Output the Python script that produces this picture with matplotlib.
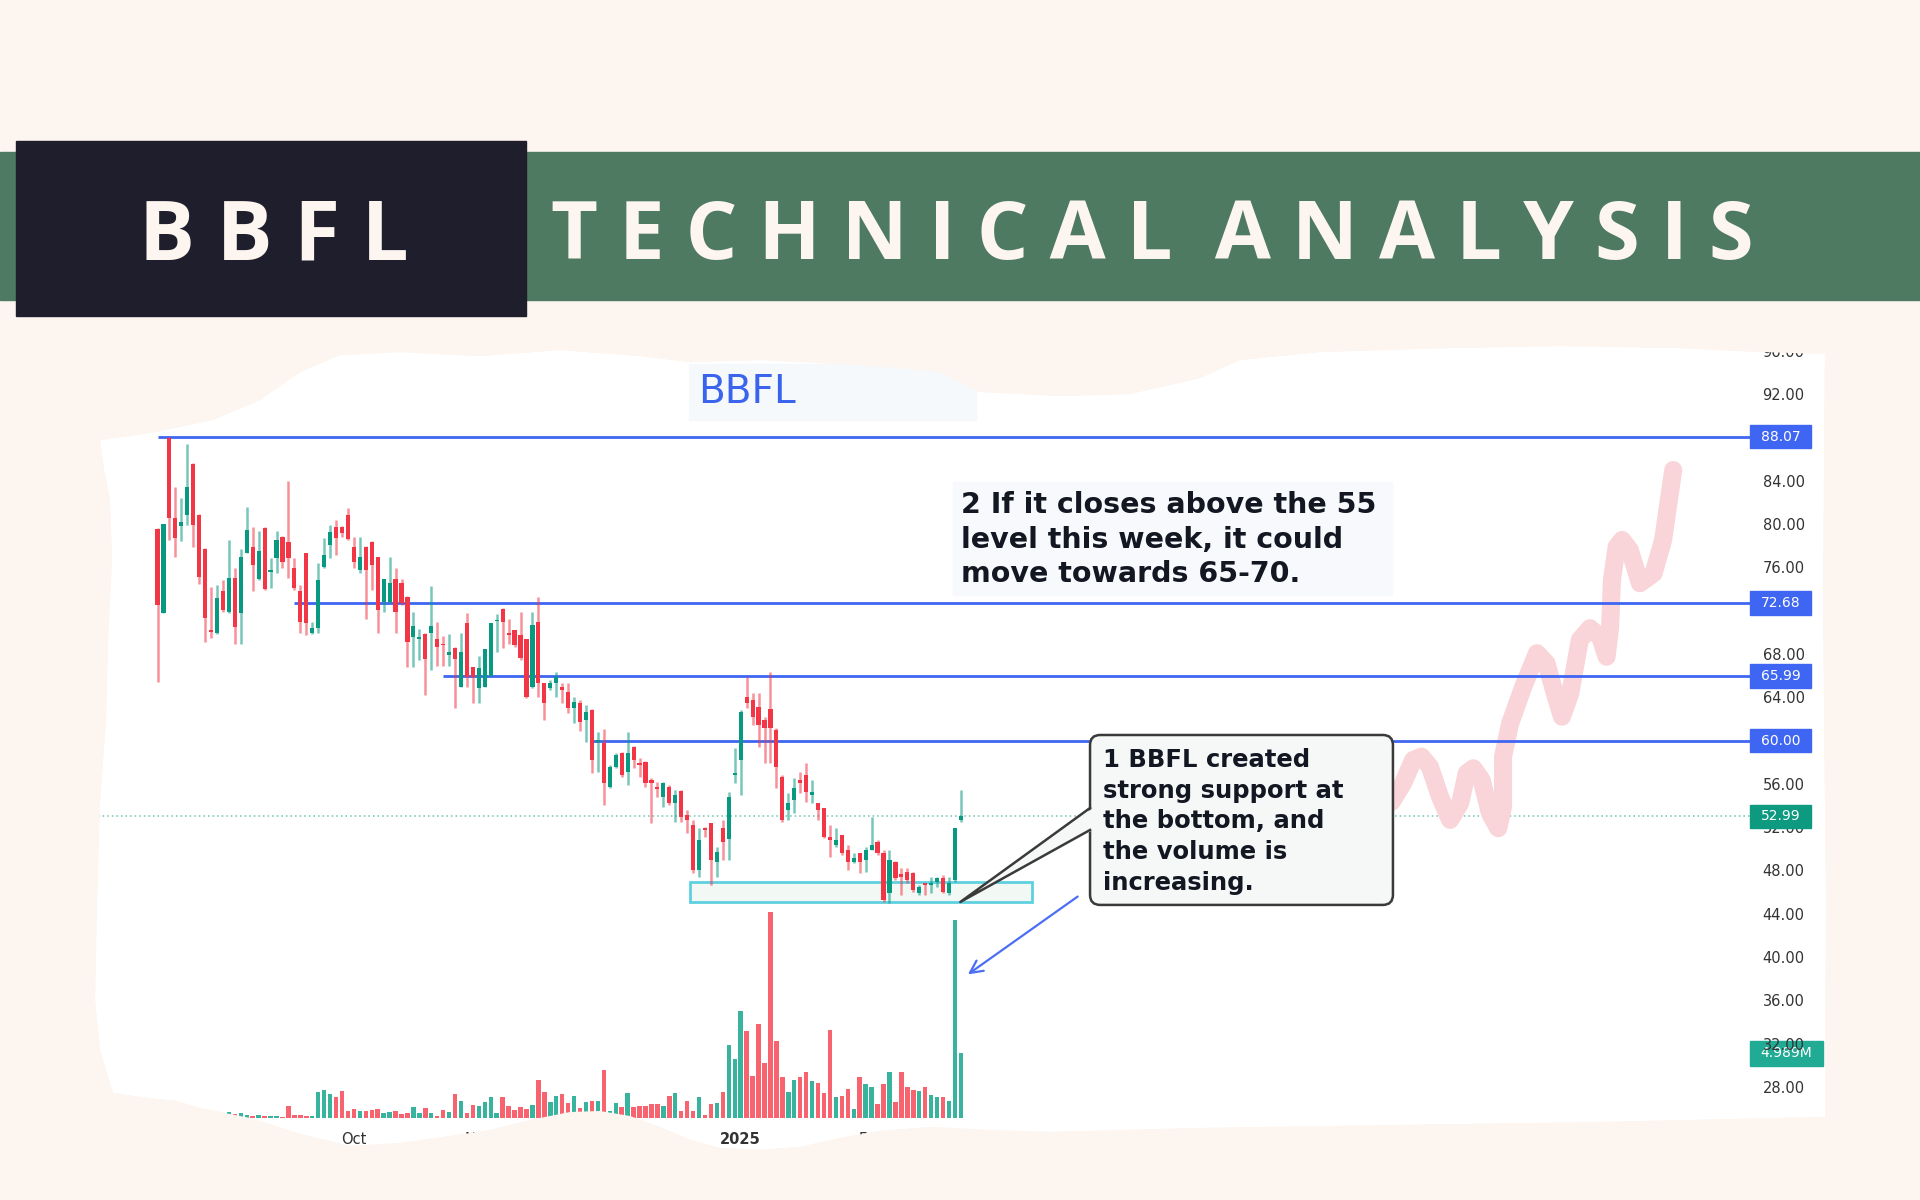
import numpy as np
import matplotlib
matplotlib.use("Agg")
import matplotlib.pyplot as plt
from matplotlib.patches import Polygon, Rectangle, FancyBboxPatch, PathPatch
from matplotlib.path import Path

W, H = 1920, 1200

# daily candles (index 0 = first session)
opens = [79.54, 71.81, 87.91, 80.58, 79.85, 80.83, 85.51, 80.83, 77.69, 70.21,
         69.9, 73.81, 71.9, 75.05, 71.75, 77.29, 77.91, 74.92, 79.66, 75.6,
         76.83, 78.83, 78.37, 75.9, 73.81, 77.29, 69.9, 70.37, 76.06, 78.06,
         79.75, 79.75, 80.83, 77.91, 75.75, 77.9, 78.37, 76.92, 72.83, 72.83,
         74.89, 74.52, 73.29, 69.59, 69.35, 69.84, 69.9, 69.35, 68.92, 67.9,
         68.52, 64.98, 70.83, 66.76, 64.82, 64.98, 65.96, 71.0, 72.12, 69.9,
         70.21, 69.75, 69.35, 64.98, 70.98, 65.29, 64.82, 65.29, 64.98, 64.52,
         62.98, 63.5, 61.9, 62.83, 59.9, 59.75, 55.75, 57.6, 58.89, 57.13,
         59.38, 57.96, 58.06, 56.36, 55.75, 54.82, 55.75, 54.21, 55.38, 53.13,
         52.21, 48.05, 51.9, 52.36, 48.82, 51.9, 50.88, 56.82, 58.21, 64.06,
         63.75, 63.13, 61.9, 62.88, 60.97, 56.66, 53.59, 54.51, 56.35, 56.82,
         54.97, 54.2, 53.74, 51.13, 50.36, 51.28, 49.89, 48.82, 49.59, 48.97,
         49.89, 50.66, 49.59, 45.89, 48.82, 47.67, 47.9, 47.74, 45.89, 46.82,
         46.66, 46.97, 47.28, 45.89, 47.13, 52.66]
highs = [79.6, 79.97, 88.07, 83.45, 82.43, 87.36, 85.6, 80.9, 77.75, 74.21,
         74.37, 74.83, 78.52, 75.9, 77.69, 81.6, 79.75, 79.35, 79.7, 76.89,
         79.35, 78.9, 83.97, 76.89, 74.37, 77.35, 70.98, 76.37, 78.68, 79.91,
         80.37, 79.8, 81.45, 78.83, 78.8, 77.95, 78.4, 76.95, 74.89, 76.92,
         75.9, 74.89, 73.35, 71.9, 70.27, 69.9, 74.27, 70.98, 69.65, 69.84,
         68.6, 69.9, 71.75, 66.8, 67.81, 68.42, 70.83, 71.69, 72.2, 71.19,
         70.25, 71.9, 69.4, 71.9, 73.29, 65.35, 65.6, 66.36, 65.35, 65.29,
         64.06, 63.75, 63.29, 62.9, 60.83, 61.04, 57.75, 58.83, 58.98, 60.83,
         59.45, 58.36, 58.1, 56.52, 56.21, 56.21, 55.9, 55.44, 55.45, 53.6,
         52.67, 51.9, 52.05, 52.4, 50.21, 52.67, 55.29, 59.29, 62.83, 65.9,
         64.36, 64.36, 62.21, 66.36, 61.13, 56.82, 55.13, 56.51, 57.13, 57.9,
         56.35, 54.25, 53.8, 52.2, 51.89, 51.3, 50.36, 49.59, 49.6, 50.2,
         52.9, 50.82, 49.89, 49.89, 48.85, 48.2, 48.2, 47.9, 46.66, 46.85,
         47.43, 47.43, 47.59, 47.43, 51.89, 55.43]
lows = [65.44, 71.81, 78.52, 76.98, 78.43, 79.91, 77.91, 74.43, 69.13, 69.44,
        69.8, 71.9, 71.75, 68.89, 68.89, 77.29, 73.81, 74.83, 73.9, 74.06,
        75.44, 75.9, 74.98, 73.9, 69.9, 69.75, 69.8, 69.9, 75.9, 76.83,
        77.14, 78.83, 78.52, 75.9, 75.44, 71.19, 73.9, 69.96, 71.9, 72.67,
        69.96, 72.52, 66.82, 66.82, 67.44, 64.21, 66.52, 66.88, 66.88, 66.88,
        62.98, 64.98, 64.98, 63.44, 63.44, 64.98, 65.96, 68.21, 68.52, 68.92,
        68.67, 67.44, 63.9, 64.82, 64.05, 61.9, 64.67, 63.99, 63.44, 62.52,
        61.6, 60.92, 59.9, 56.98, 57.13, 54.05, 55.6, 57.44, 56.67, 55.9,
        57.44, 56.67, 55.75, 52.42, 54.82, 53.9, 54.05, 52.52, 52.52, 51.44,
        47.74, 47.44, 51.13, 46.67, 47.44, 48.98, 48.98, 56.05, 54.98, 62.98,
        61.44, 59.44, 57.9, 57.9, 55.59, 52.51, 52.66, 53.28, 55.13, 54.36,
        54.2, 52.66, 50.97, 49.28, 50.2, 49.43, 48.05, 48.66, 47.74, 47.9,
        49.89, 49.43, 45.13, 45.03, 47.13, 45.74, 46.82, 46.05, 45.74, 45.74,
        45.89, 46.51, 45.89, 45.74, 46.97, 52.51]
closes = [72.52, 79.97, 80.58, 78.74, 80.15, 83.45, 79.91, 75.14, 71.29, 70.06,
          73.13, 72.06, 75.05, 70.52, 76.98, 79.45, 76.21, 77.51, 74.0, 75.69,
          78.52, 76.52, 76.83, 74.12, 70.98, 70.83, 70.37, 74.83, 77.14, 79.29,
          78.68, 79.14, 78.62, 76.52, 76.98, 75.75, 76.21, 72.06, 74.89, 74.58,
          71.9, 72.67, 69.13, 70.58, 69.59, 67.5, 70.58, 68.61, 68.8, 68.21,
          67.5, 68.21, 65.9, 65.9, 66.67, 68.42, 70.83, 71.13, 70.98, 69.75,
          68.82, 67.6, 64.05, 70.67, 65.29, 63.44, 65.29, 65.9, 64.67, 62.98,
          63.6, 61.75, 62.67, 58.21, 60.06, 56.05, 57.6, 58.67, 56.82, 58.83,
          58.21, 57.75, 56.05, 56.05, 55.5, 56.05, 54.21, 54.98, 52.98, 52.67,
          48.05, 50.82, 51.75, 48.98, 49.75, 50.67, 54.82, 56.98, 62.67, 63.44,
          62.21, 61.44, 61.13, 61.13, 57.59, 52.66, 54.2, 55.59, 56.05, 55.28,
          55.28, 53.59, 51.13, 50.82, 50.82, 49.59, 48.82, 49.12, 48.82, 49.89,
          50.36, 49.59, 45.28, 48.97, 47.28, 47.43, 47.13, 46.2, 46.51, 46.66,
          46.82, 47.28, 46.05, 46.82, 51.89, 52.99]
# volume in millions
volumes = [0.9, 0.8, 0.9, 0.6, 0.5, 0.7, 0.6, 0.5, 0.6, 0.4,
           0.5, 0.4, 0.5, 0.3, 0.39, 0.26, 0.13, 0.26, 0.13, 0.13,
           0.13, 0.08, 0.95, 0.26, 0.21, 0.13, 0.13, 1.98, 2.18, 1.85,
           1.62, 2.08, 0.51, 0.69, 0.51, 0.51, 0.64, 0.69, 0.39, 0.44,
           0.51, 0.31, 0.39, 0.85, 0.39, 0.77, 0.39, 0.18, 0.64, 0.44,
           1.85, 1.29, 0.39, 1.03, 0.90, 1.21, 1.59, 0.39, 1.59, 0.95,
           0.59, 0.85, 0.69, 1.03, 2.90, 1.98, 1.21, 1.67, 1.85, 1.16,
           1.67, 0.77, 1.21, 1.34, 1.29, 3.73, 0.51, 1.16, 0.85, 1.93,
           0.85, 0.90, 0.95, 1.11, 1.11, 0.95, 1.67, 1.93, 0.51, 1.34,
           0.51, 1.59, 0.26, 1.11, 1.16, 1.98, 5.63, 4.55, 8.28, 6.68,
           3.21, 7.27, 4.24, 15.9, 5.91, 3.16, 1.98, 2.96, 3.16, 3.55,
           2.83, 2.70, 1.93, 6.76, 1.59, 1.72, 2.24, 0.69, 3.14, 2.62,
           2.39, 1.11, 2.65, 3.52, 1.21, 3.55, 2.39, 2.18, 2.06, 2.39,
           1.75, 1.59, 1.59, 1.29, 15.24, 4.989]

levels = [88.07, 72.68, 65.99, 60.00]
level_start = [0, 23, 48, 73]
last_price = 52.99
last_volume = 4.989
support_x = [89.5, 147.0]
support_y = [45.1, 46.94]

month_pos = [33, 54, 75, 98, 120]
month_labels = ["Oct", "Nov", "Dec", "2025", "Feb"]
# 60, 72 and 88 sit under the level tags, so they are left out
price_ticks = [28, 32, 36, 40, 44, 48, 52, 56, 64, 68, 76, 80, 84, 92, 96]

# hand drawn projection (pink)
proj_x = [207.4, 209.3, 211.0, 212.4, 213.8, 215.5, 217.2, 218.9, 220.0, 221.1, 222.5,
          223.9, 225.3, 226.1, 226.1, 227.3, 229.5, 231.8, 233.4, 234.8, 236.0, 237.4,
          239.0, 240.7, 242.4, 243.5, 244.1, 244.4, 245.2, 246.1, 247.4, 249.1, 251.4,
          253.0, 254.7]
proj_y = [54.35, 56.05, 58.2, 58.51, 57.59, 54.82, 52.67, 54.21, 56.98, 57.44, 56.36,
          53.28, 51.9, 53.89, 58.51, 61.59, 64.97, 68.06, 67.13, 64.36, 62.2, 64.36,
          69.29, 70.37, 69.59, 67.74, 70.51, 74.83, 77.9, 78.52, 77.6, 74.52, 75.44,
          78.52, 84.98]

RED, GREEN = "#F23645", "#089981"
BLUE = "#3F66F2"
CREAM = "#FDF5EF"

fig = plt.figure(figsize=(19.2, 12), dpi=100, facecolor=CREAM)

def fx(x):
    return x / W

def fy(y):
    return 1 - y / H

# header
fig.patches.append(Rectangle((0, fy(300)), 1, 148 / H, transform=fig.transFigure,
                             color="#4E7A62", zorder=0))
fig.patches.append(Rectangle((fx(16), fy(316)), 510 / W, 175 / H, transform=fig.transFigure,
                             color="#1F1E2C", zorder=0.1))
fig.text(fx(274), fy(259), "B B F L", ha="center", va="baseline", fontsize=60,
         family="Open Sans", weight="bold", color=CREAM)
fig.text(fx(1152), fy(259), "T E C H N I C A L  A N A L Y S I S", ha="center",
         va="baseline", fontsize=58.5, family="Open Sans", weight="bold", color=CREAM)

# torn white paper
paper_edge = [(100, 440), (150, 433), (213, 420), (260, 400), (300, 372), (340, 355),
              (400, 352), (480, 356), (560, 350), (640, 356), (689, 362), (760, 360),
              (860, 365), (940, 372), (980, 392), (1060, 396), (1130, 394), (1200, 378),
              (1240, 360), (1320, 352), (1450, 348), (1560, 346), (1680, 348), (1760, 352),
              (1825, 354), (1823, 600), (1826, 900), (1825, 1117), (1600, 1122),
              (1400, 1125), (1200, 1128), (1050, 1132), (990, 1130), (930, 1127),
              (880, 1131), (840, 1138), (800, 1147), (760, 1150), (720, 1148), (690, 1140),
              (660, 1127), (630, 1116), (600, 1111), (570, 1112), (530, 1120), (490, 1130),
              (450, 1136), (400, 1143), (350, 1146), (300, 1134), (250, 1118), (200, 1108),
              (176, 1101), (140, 1097), (113, 1093), (100, 1050), (95, 1000), (97, 900),
              (100, 800), (106, 720), (108, 640), (112, 560), (110, 500), (104, 470)]
paper_pts = np.array([(fx(px), fy(py)) for px, py in paper_edge])
fig.patches.append(Polygon(paper_pts, closed=True, transform=fig.transFigure,
                           facecolor="white", edgecolor="none", zorder=0.5))

# cream mask around the paper, drawn over the chart so torn edges cut through it
outer = np.array([(0, fy(1200)), (1, fy(1200)), (1, fy(322)), (0, fy(322))])

def signed_area(p):
    return 0.5 * np.sum(p[:, 0] * np.roll(p[:, 1], -1) - np.roll(p[:, 0], -1) * p[:, 1])

inner = paper_pts if signed_area(paper_pts) * signed_area(outer) < 0 else paper_pts[::-1]
verts = np.vstack([outer, outer[:1], inner, inner[:1]])
codes = ([Path.MOVETO] + [Path.LINETO] * 3 + [Path.CLOSEPOLY]
         + [Path.MOVETO] + [Path.LINETO] * (len(inner) - 1) + [Path.CLOSEPOLY])
fig.patches.append(PathPatch(Path(verts, codes), transform=fig.transFigure,
                             facecolor=CREAM, edgecolor="none", zorder=5))

rect = [fx(98), fy(1120), (1750 - 98) / W, (1120 - 337) / H]
xlim = (-10.0, 267.6)

# volume pane
axv = fig.add_axes(rect, zorder=1)
axv.patch.set_visible(False)
axv.set_xlim(*xlim)
axv.set_ylim(-0.15, 60.2)
axv.axis("off")
x = np.arange(len(opens))
up = np.array(closes) >= np.array(opens)
vcol = np.where(up, "#22AB94", "#F7525F")
axv.bar(x, volumes, width=0.75, color=vcol, alpha=0.9)
axv.add_patch(Rectangle((1.0, last_volume - 0.97), 73 / 1652, 1.94, transform=axv.get_yaxis_transform(),
                        color="#22AB94", clip_on=False, zorder=5))
axv.text(1.0 + 36.5 / 1652, last_volume, "4.989M", transform=axv.get_yaxis_transform(),
         ha="center", va="center", color="white", fontsize=10, zorder=6)

# price pane
ax = fig.add_axes(rect, zorder=2)
ax.patch.set_visible(False)
ax.set_xlim(*xlim)
ax.set_ylim(24.96, 97.26)
for s in ax.spines.values():
    s.set_visible(False)

ccol = np.where(up, GREEN, RED)
ax.vlines(x, lows, highs, colors=ccol, lw=1.8, alpha=0.55, zorder=3)
body = np.maximum(np.abs(np.array(closes) - np.array(opens)), 0.15)
ax.bar(x, body, bottom=np.minimum(opens, closes), width=0.7, color=ccol, zorder=3)

ax.axhline(last_price, color="#6CC4B4", lw=1.1, ls=(0, (1, 2)), zorder=2)
ax.plot(proj_x, proj_y, color="#F9D4D8", lw=13, solid_joinstyle="round",
        solid_capstyle="round", zorder=2.2)
ax.hlines(levels, level_start, xlim[1], colors=BLUE, lw=2.0, zorder=2.5)

ax.add_patch(Rectangle((support_x[0], support_y[0]), support_x[1] - support_x[0],
                       support_y[1] - support_y[0], facecolor="#F2F8F4", edgecolor="#5FD0E0",
                       lw=2, zorder=2.4))

# right price labels
yt = ax.get_yaxis_transform()
for lvl in levels:
    ax.add_patch(Rectangle((1.0, lvl - 1.1), 61 / 1652, 2.2, transform=yt, color=BLUE,
                           clip_on=False, zorder=5))
    ax.text(1.0 + 30.5 / 1652, lvl, f"{lvl:.2f}", transform=yt, ha="center", va="center",
            color="white", fontsize=10, zorder=6)
ax.add_patch(Rectangle((1.0, last_price - 1.1), 61 / 1652, 2.2, transform=yt, color="#0E9A80",
                       clip_on=False, zorder=5))
ax.text(1.0 + 30.5 / 1652, last_price, f"{last_price:.2f}", transform=yt, ha="center",
        va="center", color="white", fontsize=10, zorder=6)

ax.yaxis.tick_right()
ax.set_yticks(price_ticks, labels=[f"{v:.2f}" for v in price_ticks])
ax.set_xticks(month_pos, labels=month_labels)
ax.tick_params(length=0, labelsize=10.5, labelcolor="#333333")
ax.tick_params(axis="y", pad=9)
ax.tick_params(axis="x", pad=9)
ax.get_xticklabels()[3].set_fontweight("bold")

# title
ax.add_patch(Rectangle((89.3, 89.6), 48.3, 5.17, color="#F6F9FC", zorder=1.5))
ax.text(90.8, 92.2, "BBFL", color="#3A63EE", fontsize=28, va="center", ha="left", zorder=4)

# note 2
ax.add_patch(Rectangle((133.7, 73.44), 73.8, 10.43, color="#F7F9FC", zorder=1.5))
ax.text(135.0, 83.0, "2 If it closes above the 55\nlevel this week, it could\nmove towards 65-70.",
        fontsize=20.5, weight="bold", color="#131722", va="top", ha="left",
        linespacing=1.28, zorder=4)

# note 1 callout
box_face = "#F6F8F8"
ax.add_patch(FancyBboxPatch((156.7, 44.82), 50.9, 15.69, boxstyle="round,pad=0,rounding_size=1.7",
                            mutation_aspect=0.55, facecolor=box_face, edgecolor="#3A3A3A",
                            lw=1.8, zorder=4))
ax.add_patch(Polygon([(157.2, 53.77), (134.9, 45.09), (157.2, 51.74)], closed=True,
                     facecolor=box_face, edgecolor="none", zorder=4.1))
ax.plot([156.7, 134.9, 156.7], [53.77, 45.09, 51.74], color="#3A3A3A", lw=1.8, zorder=4.2)
ax.text(158.9, 59.3, "1 BBFL created\nstrong support at\nthe bottom, and\nthe volume is\nincreasing.",
        fontsize=17.5, weight="bold", color="#131722", va="top", ha="left",
        linespacing=1.35, zorder=4.5)

ax.annotate("", xy=(135.8, 38.26), xytext=(155.0, 45.74),
            arrowprops=dict(arrowstyle="->,head_length=0.9,head_width=0.45", color="#4C6EF5", lw=1.6),
            zorder=4)

fig.savefig("out.png", dpi=100, facecolor=CREAM)
